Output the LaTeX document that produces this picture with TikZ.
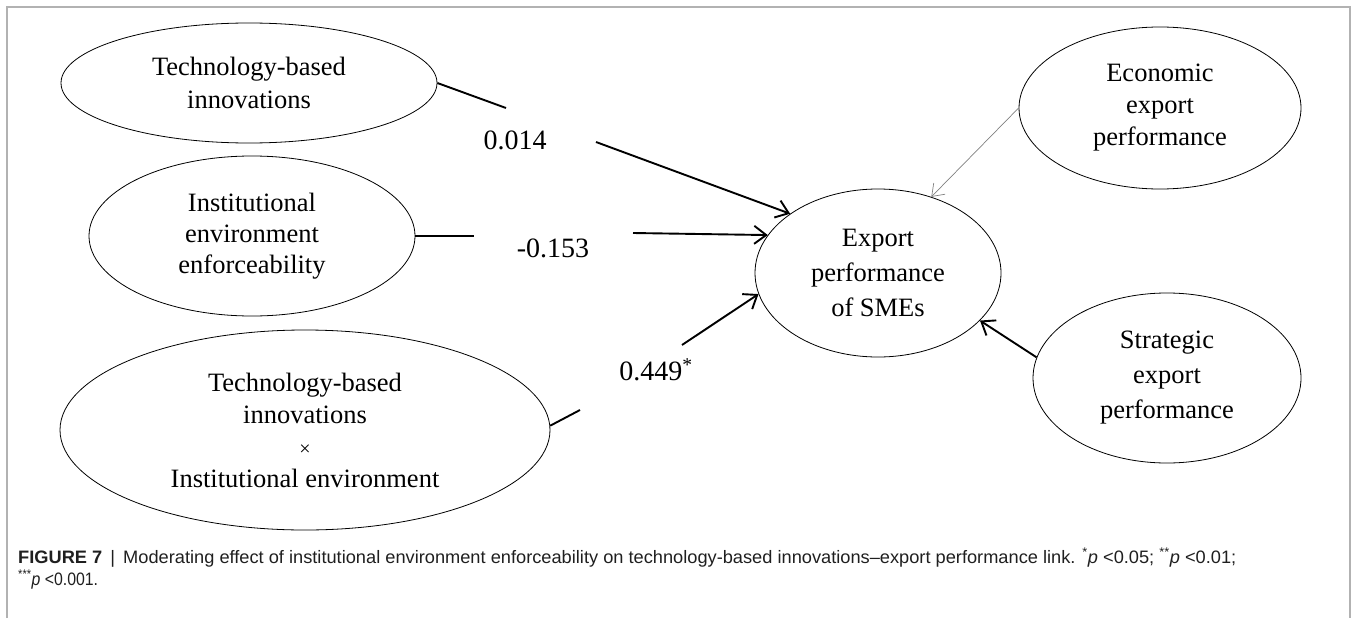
\documentclass[tikz,border=0pt]{standalone}
\usepackage{fontspec}
\usepackage{graphicx}
\setmainfont{Liberation Serif}
\newfontfamily\capfont{Liberation Sans}
\usetikzlibrary{arrows.meta,shapes.geometric}
\begin{document}
\begin{tikzpicture}[x=1pt,y=-1pt,
  lat/.style={ellipse,draw=black,line width=0.8pt,inner sep=0pt,align=center,
    font=\fontsize{26.5}{33}\selectfont},
  seg/.style={line width=1.9pt},
  arr/.style={line width=1.9pt,-{Straight Barb[length=12pt,width=18pt,line width=1.9pt]}},
  thinarr/.style={line width=0.7pt,draw=gray,-{Straight Barb[length=11pt,width=16pt,line width=0.7pt]}},
  coef/.style={font=\fontsize{28}{33}\selectfont,inner sep=0pt},
  captxt/.style={anchor=base west,inner sep=0pt,text=black!88,font=\capfont\fontsize{18}{22}\selectfont},
]
\useasboundingbox (0,0) rectangle (1356,618);
\draw[gray!60,line width=1.5pt] (7,618) -- (7,7) -- (1350,7) -- (1350,618);

\node[lat,minimum width=376pt,minimum height=120pt] (tbi) at (249,83) {Technology-based\\innovations};
\node[lat,minimum width=326pt,minimum height=160pt,font=\fontsize{26.5}{31}\selectfont] (iee) at (252,236) {Institutional\\environment\\enforceability};
\node[lat,minimum width=490pt,minimum height=200pt,font=\fontsize{26.5}{32}\selectfont] (int) at (305,430) {Technology-based\\innovations\\{\fontsize{20}{32}\selectfont ×}\\Institutional environment};
\node[lat,minimum width=246pt,minimum height=168pt,font=\fontsize{26.5}{35}\selectfont] (ex) at (878,273) {Export\\performance\\of SMEs};
\node[lat,minimum width=282pt,minimum height=162pt,font=\fontsize{26.5}{32}\selectfont] (ec) at (1160,108) {Economic\\export\\performance};
\node[lat,minimum width=268pt,minimum height=170pt,font=\fontsize{26.5}{35}\selectfont] (st) at (1167,378) {Strategic\\export\\performance};

\node[coef] (c1) at (515,140) {0.014};
\node[coef] (c2) at (553,248) {-0.153};
\node[coef] (c3) at (656,370) {0.449\textsuperscript{*}};

\coordinate (g1a) at (506,108);
\coordinate (g1b) at (596,142);
\coordinate (g2a) at (474,236);
\coordinate (g2b) at (633,233);
\coordinate (g3a) at (580,410);
\coordinate (g3b) at (682,345);

\draw[seg] (tbi.east) -- (g1a);
\draw[arr] (g1b) -- (ex.146);
\draw[seg] (iee.east) -- (g2a);
\draw[arr] (g2b) -- (ex.161);
\draw[seg] (int.1) -- (g3a);
\draw[arr] (g3b) -- (ex.190);
\draw[thinarr] (ec.west) -- (ex.55);
\draw[arr] (st.171) -- (ex.335);

\node[captxt] (cap1) at (18,563) {\resizebox{1218pt}{\height}{\textbf{FIGURE 7}\, | \,Moderating effect of institutional environment enforceability on technology-based innovations–export performance link. \textsuperscript{*}\textit{p} <0.05; \textsuperscript{**}\textit{p} <0.01;}};
\node[captxt] (cap2) at (18,585) {\resizebox{!}{\height}{\scalebox{0.88}[1]{\textsuperscript{***}\textit{p} <0.001.}}};
\end{tikzpicture}
\end{document}
